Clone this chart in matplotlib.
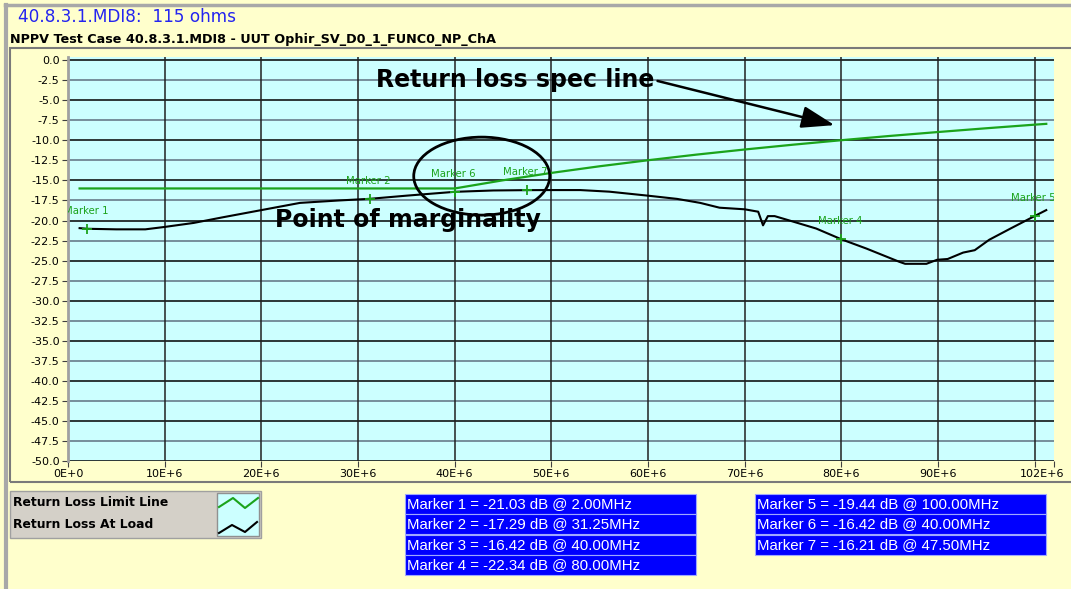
import matplotlib
matplotlib.use("Agg")
import matplotlib.pyplot as plt
import matplotlib.transforms as mtransforms
from matplotlib.patches import Rectangle, Ellipse
from matplotlib.lines import Line2D

plt.rcParams["axes.unicode_minus"] = False

# frequencies in MHz, levels in dB
limit_freq = [1.2, 10, 20, 30, 40, 45, 50, 55, 60, 65, 70, 75, 80, 85, 90, 95, 100, 101.2]
limit_db = [-16.0, -16.0, -16.0, -16.0, -16.0, -14.98, -14.06, -13.23, -12.48, -11.78,
            -11.14, -10.54, -9.98, -9.45, -8.96, -8.49, -8.04, -7.94]

load_freq = [1.2, 2, 5, 8, 10, 13, 16, 20, 24, 28, 31.25, 35, 40, 44, 47.5, 50, 53, 56,
             60, 63, 65.4, 67.4, 70, 71.4, 71.9, 72.4, 73.1, 74.5, 77.4, 80, 82.6, 86,
             86.6, 88.8, 89.9, 91, 92.6, 93.8, 95.3, 97.5, 100, 101.2]
load_db = [-20.95, -21.03, -21.1, -21.1, -20.8, -20.3, -19.6, -18.7, -17.8, -17.5, -17.29,
           -16.9, -16.42, -16.25, -16.21, -16.2, -16.2, -16.4, -16.9, -17.3, -17.8, -18.4,
           -18.6, -18.9, -20.6, -19.45, -19.45, -19.95, -21.0, -22.34, -23.5, -25.15,
           -25.4, -25.4, -24.9, -24.8, -24.0, -23.7, -22.4, -21.0, -19.44, -18.7]

marker_ids = [1, 2, 3, 4, 5, 6, 7]
marker_freq = [2.00, 31.25, 40.00, 80.00, 100.00, 40.00, 47.50]
marker_db = [-21.03, -17.29, -16.42, -22.34, -19.44, -16.42, -16.21]
marker_show_label = [True, True, False, True, True, True, True]

x_ticks = [0, 10, 20, 30, 40, 50, 60, 70, 80, 90, 100, 102]
x_labels = ["0E+0", "10E+6", "20E+6", "30E+6", "40E+6", "50E+6", "60E+6", "70E+6",
            "80E+6", "90E+6", "", "102E+6"]
y_ticks = [-50 + 2.5 * i for i in range(21)]

W, H = 1071, 589
fx = lambda px: px / W
fy = lambda py: 1 - py / H

BG = "#FFFFCC"
CYAN = "#CCFFFF"
GREEN = "#1BA31B"

fig = plt.figure(figsize=(W / 100, H / 100), dpi=100, facecolor=BG)

# window frame bits
fig.add_artist(Line2D([fx(5), 1], [fy(5), fy(5)], color="#A8A8A8", lw=2.5))
fig.add_artist(Line2D([fx(6), fx(6)], [fy(5), 0], color="#A8A8A8", lw=3))
fig.add_artist(Rectangle((fx(10), fy(482)), fx(1080) - fx(10), fy(48) - fy(482),
                         fill=False, edgecolor="#7A7A7A", lw=1.5))

fig.text(fx(18), fy(17), "40.8.3.1.MDI8:  115 ohms", color="#2424F0", fontsize=12.2,
         va="center", ha="left")
fig.text(fx(10), fy(40), "NPPV Test Case 40.8.3.1.MDI8 - UUT Ophir_SV_D0_1_FUNC0_NP_ChA",
         fontsize=9.2, fontweight="bold", va="center", ha="left")

ax = fig.add_axes([fx(68), fy(461), fx(1054) - fx(68), fy(57) - fy(461)])
ax.set_facecolor(CYAN)
ax.set_xlim(0, 102)
ax.set_ylim(-50, 0.4)

for v in y_ticks:
    major = abs(v % 5) < 1e-9
    ax.axhline(v, color="black" if major else "#5F7080", lw=1.1, zorder=1)
for v in x_ticks[1:-1]:
    ax.axvline(v, color="#202020", lw=1.1, zorder=1)

ax.plot(limit_freq, limit_db, color=GREEN, lw=1.6, zorder=3)
ax.plot(load_freq, load_db, color="black", lw=1.5, zorder=3)

ax.plot(marker_freq, marker_db, linestyle="none", marker="+", markersize=7, mew=1.3,
        color=GREEN, zorder=4)
for mid, f, db, show in zip(marker_ids, marker_freq, marker_db, marker_show_label):
    if show:
        ax.annotate(f"Marker {mid}", (f, db), xytext=(-1, 13), textcoords="offset points",
                    ha="center", va="center", color=GREEN, fontsize=7.3, clip_on=True,
                    zorder=7)

# annotations
ax.annotate("Return loss spec line", xy=(79.3, -8.1), xytext=(31.9, -2.5),
            ha="left", va="center", fontsize=17, fontweight="bold", zorder=6,
            arrowprops=dict(arrowstyle="-|>,head_length=1.2,head_width=0.4",
                            color="black", lw=1.8, relpos=(1, 0.5), shrinkA=0, shrinkB=0))
ax.text(21.4, -19.95, "Point of marginality", ha="left", va="center", fontsize=17,
        fontweight="bold", zorder=6)
ax.add_patch(Ellipse((42.8, -14.46), 14.07, 9.73, fill=False, edgecolor="black", lw=2,
                     zorder=6))

ax.set_xticks(x_ticks)
ax.set_xticklabels(x_labels)
ax.set_yticks(y_ticks)
ax.set_yticklabels([f"{v:.1f}" for v in y_ticks])
ax.tick_params(labelsize=8, length=4, color="#404040", direction="out", pad=2)
# last label sits a bit left of its tick so it stays inside the window
shift = mtransforms.ScaledTranslation(-12 / 100, 0, fig.dpi_scale_trans)
last = ax.get_xticklabels()[-1]
last.set_transform(last.get_transform() + shift)
for s in ["top", "right", "bottom"]:
    ax.spines[s].set_visible(False)
ax.spines["left"].set_color("#A0A0A0")
ax.spines["left"].set_linewidth(2)

# legend
fig.add_artist(Rectangle((fx(10), fy(538)), fx(261) - fx(10), fy(491) - fy(538),
                         facecolor="#D4D0C8", edgecolor="#A0A0A0", lw=1))
fig.add_artist(Rectangle((fx(217), fy(536)), fx(259) - fx(217), fy(493) - fy(536),
                         facecolor=CYAN, edgecolor="#909090", lw=1))
fig.text(fx(13), fy(503), "Return Loss Limit Line", fontsize=8.9, fontweight="bold",
         va="center", ha="left")
fig.text(fx(13), fy(525), "Return Loss At Load", fontsize=8.9, fontweight="bold",
         va="center", ha="left")
fig.add_artist(Line2D([fx(219), fx(233), fx(245), fx(258)],
                      [fy(507), fy(498), fy(508), fy(498)], color=GREEN, lw=1.5))
fig.add_artist(Line2D([fx(219), fx(232), fx(245), fx(257)],
                      [fy(533), fy(525), fy(532), fy(522)], color="black", lw=1.5))

# marker readout table
row_tops = [494, 514, 535, 555]
col_left = [405, 755]
for i, (mid, f, db) in enumerate(zip(marker_ids, marker_freq, marker_db)):
    col = 0 if i < 4 else 1
    row = i if i < 4 else i - 4
    x0 = col_left[col]
    y0 = row_tops[row]
    fig.add_artist(Rectangle((fx(x0), fy(y0 + 20)), fx(291), 20 / H,
                             facecolor="#0000FF", edgecolor="#9FA8FF", lw=0.8))
    fig.text(fx(x0 + 2), fy(y0 + 10), f"Marker {mid} = {db:.2f} dB @ {f:.2f}MHz",
             color="white", fontsize=10.8, family="Liberation Sans", va="center", ha="left")

fig.savefig("out.png", dpi=100, facecolor=BG)
